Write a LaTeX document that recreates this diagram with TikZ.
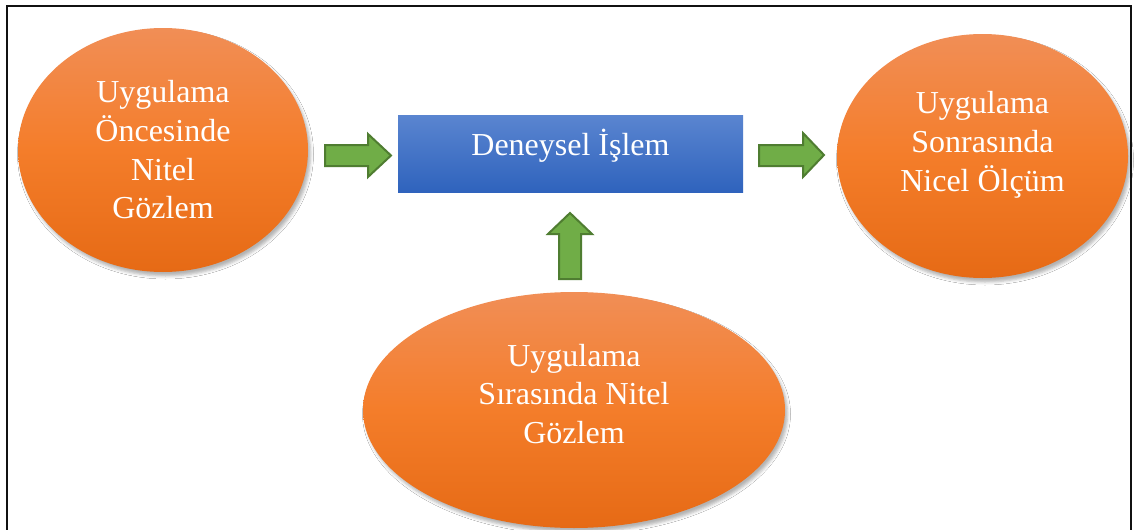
\documentclass[tikz,border=0pt]{standalone}
\usepackage{fontspec}
\setmainfont{Liberation Serif}
\usetikzlibrary{shapes.geometric,shadows.blur}
\definecolor{orTop}{HTML}{F18E56}
\definecolor{orMid}{HTML}{F47D2A}
\definecolor{orBot}{HTML}{E66A15}
\definecolor{blTop}{HTML}{5A85D0}
\definecolor{blBot}{HTML}{2F63BD}
\definecolor{grFill}{HTML}{70AD47}
\definecolor{grLine}{HTML}{4F7D31}
\definecolor{frameCol}{HTML}{111111}
\tikzset{
  ell/.style={ellipse, inner sep=0pt, draw=none, top color=orTop, bottom color=orBot, middle color=orMid,
    blur shadow={shadow xshift=2.5pt, shadow yshift=-4pt, shadow opacity=30, shadow blur radius=3pt}},
  bluebox/.style={rectangle, inner sep=0pt, draw=none, top color=blTop, bottom color=blBot,
    minimum width=345pt, minimum height=77pt},
  txt/.style={text=white, align=center, inner sep=0pt, font=\fontsize{32}{38.7}\selectfont},
  blockarrow/.style={fill=grFill, draw=grLine, line width=2pt, line join=miter},
  framestyle/.style={draw=frameCol, line width=2.6pt}
}
\begin{document}
\begin{tikzpicture}[x=1pt,y=-1pt]
\useasboundingbox (0,0) rectangle (1136,530);
\fill[white] (0,0) rectangle (1136,530);
\draw[framestyle] (7,531) -- (7,6) -- (1131,6) -- (1131,531);

% nodes
\node[ell, minimum width=290pt, minimum height=244pt] (L) at (163,150) {};
\node[txt] (Ltxt) at (L.center) {Uygulama\\Öncesinde\\Nitel\\Gözlem};

\node[bluebox] (D) at (570.5,153.5) {};
\node[txt] (Dtxt) at ([yshift=7.5pt]D.center) {Deneysel İşlem};

\node[ell, minimum width=291pt, minimum height=244pt] (R) at (982.5,156) {};
\node[txt] (Rtxt) at ([yshift=11pt]R.center) {Uygulama\\Sonrasında\\Nicel Ölçüm};

\node[ell, minimum width=422pt, minimum height=236pt] (B) at (574,410) {};
\node[txt] (Btxt) at ([yshift=16pt]B.center) {Uygulama\\Sırasında Nitel\\Gözlem};

% block arrows
\draw[blockarrow] (325,145) -- (368,145) -- (368,134) -- (391,155.5) -- (368,177) -- (368,166) -- (325,166) -- cycle;
\draw[blockarrow] (759,145) -- (803,145) -- (803,133) -- (824,155) -- (803,177) -- (803,166) -- (759,166) -- cycle;
\draw[blockarrow] (559,279) -- (559,234) -- (548,234) -- (570,213) -- (592,234) -- (581,234) -- (581,279) -- cycle;
\end{tikzpicture}
\end{document}
